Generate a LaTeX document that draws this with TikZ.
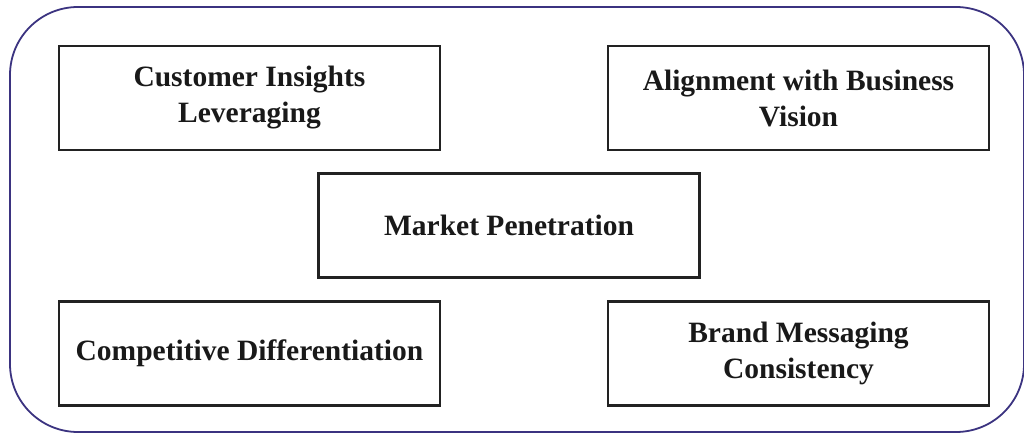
\documentclass[tikz,border=0pt]{standalone}
\usepackage{fontspec}
\setmainfont{Liberation Serif}
\definecolor{framepurple}{HTML}{3B3380}
\definecolor{boxline}{HTML}{222222}
\begin{document}
\begin{tikzpicture}[x=1pt,y=-1pt]
        \tikzstyle{topic box}=[draw=boxline,line width=2.4pt,fill=white,minimum width=381pt,minimum height=104pt,align=center,inner sep=0pt,text=black!90,font=\fontsize{29.5}{36}\selectfont\bfseries]
        \tikzstyle{outer frame}=[draw=framepurple,line width=1.8pt,rounded corners=68pt]

        \useasboundingbox (0,0) rectangle (1024,434);
        \draw[outer frame] (10,7) rectangle (1024,432);

        \node(ci)[topic box] at (249.5,98) {Customer Insights\\Leveraging};
        \node(ab)[topic box] at (798.5,98) {Alignment with Business\\Vision};
        \node(mp)[topic box] at (509,225.5) {Market Penetration};
        \node(cd)[topic box] at (249.5,353.5) {Competitive Differentiation};
        \node(bm)[topic box] at (798.5,353.5) {Brand Messaging\\Consistency};
    \end{tikzpicture}
\end{document}
